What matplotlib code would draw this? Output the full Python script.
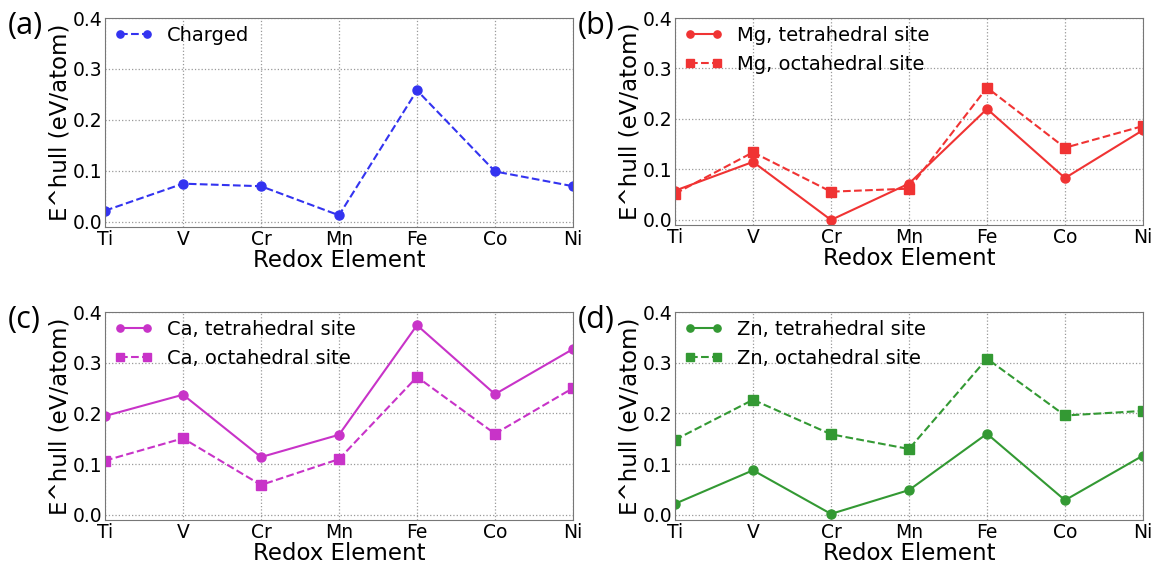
import matplotlib
matplotlib.use("Agg")
import matplotlib.pyplot as plt
import numpy as np

plt.rcParams['font.family'] = ['DejaVu Sans']

elements = ["Ti", "V", "Cr", "Mn", "Fe", "Co", "Ni"]

charged = [0.022, 0.075, 0.070, 0.013, 0.258, 0.099, 0.070]

mg_tet = [0.058, 0.115, 0.000, 0.072, 0.220, 0.083, 0.178]
mg_oct = [0.052, 0.134, 0.056, 0.062, 0.262, 0.143, 0.186]

ca_tet = [0.195, 0.237, 0.114, 0.158, 0.374, 0.238, 0.327]
ca_oct = [0.107, 0.151, 0.059, 0.110, 0.272, 0.160, 0.250]

zn_tet = [0.022, 0.088, 0.002, 0.049, 0.160, 0.029, 0.117]
zn_oct = [0.148, 0.227, 0.159, 0.130, 0.308, 0.196, 0.205]

x = np.arange(len(elements))

fig = plt.figure(figsize=(11.56, 5.64), dpi=100)
W, H = 1156, 564

def make_ax(left, top, right, bottom):
    return fig.add_axes([left / W, 1 - bottom / H, (right - left) / W, (bottom - top) / H])

axes = [
    make_ax(105, 18, 573, 227),
    make_ax(675, 18, 1143, 225),
    make_ax(105, 312, 573, 520),
    make_ax(675, 312, 1143, 520),
]

blue = "#3333f0"
red = "#f03333"
mag = "#c833c8"
green = "#339933"

ax = axes[0]
ax.plot(x, charged, "--o", color=blue, lw=1.5, ms=6.5, mec=blue, label="Charged")

ax = axes[1]
ax.plot(x, mg_tet, "-o", color=red, lw=1.5, ms=6.5, mec=red, label="Mg, tetrahedral site")
ax.plot(x, mg_oct, "--s", color=red, lw=1.5, ms=6.5, mec=red, label="Mg, octahedral site")

ax = axes[2]
ax.plot(x, ca_tet, "-o", color=mag, lw=1.5, ms=6.5, mec=mag, label="Ca, tetrahedral site")
ax.plot(x, ca_oct, "--s", color=mag, lw=1.5, ms=6.5, mec=mag, label="Ca, octahedral site")

ax = axes[3]
ax.plot(x, zn_tet, "-o", color=green, lw=1.5, ms=6.5, mec=green, label="Zn, tetrahedral site")
ax.plot(x, zn_oct, "--s", color=green, lw=1.5, ms=6.5, mec=green, label="Zn, octahedral site")

for ax, tag in zip(axes, ["(a)", "(b)", "(c)", "(d)"]):
    ax.set_xlim(0, 6)
    ax.set_ylim(-0.01, 0.4)
    ax.set_yticks([0.0, 0.1, 0.2, 0.3, 0.4])
    ax.set_yticklabels(["0.0", "0.1", "0.2", "0.3", "0.4"])
    ax.set_xticks(x)
    ax.set_xticklabels(elements)
    ax.tick_params(labelsize=13.5, length=0, pad=2)
    ax.grid(True, ls=":", color="#999999", lw=0.9)
    for s in ax.spines.values():
        s.set_color("#777777")
    ax.set_xlabel("Redox Element", fontsize=16.5, labelpad=0)
    ax.set_ylabel("E^hull (eV/atom)", fontsize=16.5, labelpad=1)
    ax.legend(loc="upper left", bbox_to_anchor=(0.011, 0.98), frameon=False,
              fontsize=14, numpoints=2, markerscale=0.8,
              handlelength=2.0, handletextpad=0.7, borderaxespad=0,
              borderpad=0.2, labelspacing=0.5)
    pos = ax.get_position()
    fig.text(pos.x0 - 0.0845, pos.y1 + 0.012, tag, fontsize=22,
             family="Open Sans", va="top", ha="left")

fig.savefig("out.png", dpi=100)
